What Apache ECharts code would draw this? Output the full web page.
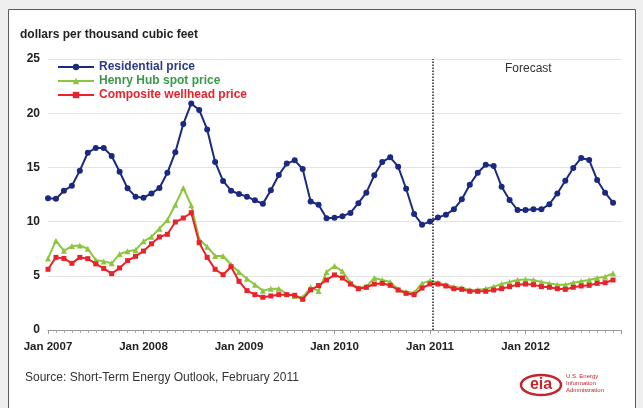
<!DOCTYPE html>
<html>
<head>
<meta charset="utf-8">
<script src="https://cdn.jsdelivr.net/npm/echarts@6/dist/echarts.min.js"></script>
<style>
  html, body { margin: 0; padding: 0; background: #efefef; }
  #chart { width: 643px; height: 408px; }
</style>
</head>
<body>
<div id="chart"></div>
<script>
// Monthly prices, Jan 2007 – Dec 2012 (dollars per thousand cubic feet)
const residentialPrice = [
  12.15, 12.1, 12.85, 13.3, 14.7, 16.35, 16.8, 16.8, 16.05, 14.6, 13.07, 12.3,
  12.2, 12.6, 13.1, 14.5, 16.4, 19.0, 20.9, 20.3, 18.5, 15.5, 13.75, 12.85,
  12.55, 12.3, 11.96, 11.65, 12.9, 14.3, 15.35, 15.65, 14.85, 11.85, 11.55, 10.3,
  10.35, 10.5, 10.8, 11.7, 12.67, 14.27, 15.5, 15.93, 15.07, 13.03, 10.7, 9.72,
  10.0, 10.37, 10.64, 11.13, 12.06, 13.4, 14.5, 15.25, 15.13, 13.22, 12.0, 11.07,
  11.07, 11.13, 11.13, 11.6, 12.6, 13.77, 14.95, 15.87, 15.68, 13.84, 12.67, 11.75
];
const henryHubSpot = [
  6.6, 8.24, 7.3, 7.75, 7.8, 7.5, 6.45, 6.33, 6.15, 7.0, 7.26, 7.38,
  8.18, 8.6, 9.35, 10.15, 11.56, 13.1, 11.5, 8.37, 7.68, 6.83, 6.83, 6.02,
  5.35, 4.73, 4.18, 3.63, 3.81, 3.81, 3.32, 3.14, 3.0, 3.94, 3.6, 5.35,
  5.9, 5.41, 4.36, 3.87, 4.0, 4.8, 4.61, 4.43, 3.75, 3.5, 3.44, 4.3,
  4.55, 4.36, 4.18, 4.0, 3.87, 3.69, 3.69, 3.81, 4.0, 4.24, 4.43, 4.61,
  4.67, 4.61, 4.43, 4.3, 4.18, 4.18, 4.36, 4.49, 4.61, 4.8, 4.92, 5.23
];
const compositeWellhead = [
  5.6, 6.7, 6.6, 6.15, 6.7, 6.58, 6.1, 5.68, 5.2, 5.72, 6.4, 6.8,
  7.28, 7.95, 8.58, 8.83, 9.96, 10.33, 10.82, 8.05, 6.7, 5.6, 5.1, 5.84,
  4.49, 3.63, 3.26, 3.02, 3.14, 3.26, 3.26, 3.2, 2.83, 3.7, 4.1, 4.61,
  5.08, 4.8, 4.24, 3.81, 3.94, 4.24, 4.3, 4.12, 3.69, 3.38, 3.26, 3.87,
  4.24, 4.24, 4.06, 3.81, 3.75, 3.57, 3.57, 3.57, 3.69, 3.81, 4.0, 4.18,
  4.24, 4.18, 4.0, 3.94, 3.81, 3.75, 3.94, 4.06, 4.12, 4.3, 4.36, 4.61
];
const seriesNames = ['Residential price', 'Henry Hub spot price', 'Composite wellhead price'];
const yearLabels = ['Jan 2007', 'Jan 2008', 'Jan 2009', 'Jan 2010', 'Jan 2011', 'Jan 2012'];
const forecastStart = 48.4;   // month index where the forecast begins

const toPoints = arr => arr.map((v, i) => [i, v]);

const FONT = 'Liberation Sans, Arial, sans-serif';
const navy = '#1b2a80';
const green = '#8cc63f';
const red = '#e8232b';

const chart = echarts.init(document.getElementById('chart'), null, { renderer: 'canvas' });

chart.setOption({
  backgroundColor: '#efefef',
  animation: false,
  textStyle: { fontFamily: FONT },
  graphic: [
    {
      type: 'rect', z: -10,
      shape: { x: 8.5, y: 9.5, width: 627, height: 410 },
      style: { fill: '#ffffff', stroke: '#5a5a5a', lineWidth: 1 }
    },
    {
      type: 'text', left: 20, top: 29,
      style: { text: 'dollars per thousand cubic feet', font: 'bold 12px ' + FONT, fill: '#222' }
    },
    {
      type: 'text', left: 505, top: 63,
      style: { text: 'Forecast', font: '12px ' + FONT, fill: '#333' }
    },
    {
      type: 'text', left: 25, top: 372,
      style: { text: 'Source: Short-Term Energy Outlook, February 2011', font: '12px ' + FONT, fill: '#333' }
    },
    // eia mark
    {
      type: 'ellipse',
      shape: { cx: 541, cy: 385, rx: 20, ry: 10 },
      style: { fill: 'none', stroke: '#c2262e', lineWidth: 2.5 }
    },
    {
      type: 'text', x: 541, y: 385,
      style: { text: 'eia', font: 'bold 16px ' + FONT, fill: '#c2262e', align: 'center', verticalAlign: 'middle' }
    },
    {
      type: 'text', left: 566, top: 373,
      style: { text: 'U.S. Energy\nInformation\nAdministration', font: '6px ' + FONT, fill: '#c2262e', lineHeight: 7 }
    }
  ],
  legend: {
    orient: 'vertical',
    left: 57, top: 61, padding: 0,
    itemWidth: 36, itemHeight: 8, itemGap: 2,
    textStyle: { fontFamily: FONT, fontSize: 12, fontWeight: 'bold' },
    data: [
      { name: seriesNames[0], textStyle: { color: '#2b3a8a' } },
      { name: seriesNames[1], textStyle: { color: '#3a9a4a' } },
      { name: seriesNames[2], textStyle: { color: '#e8232b' } }
    ]
  },
  grid: { left: 48, right: 22, top: 59, bottom: 78 },
  xAxis: {
    type: 'value',
    min: 0, max: 72, interval: 12,
    axisLine: { show: true, lineStyle: { color: '#999' } },
    axisTick: { show: true, length: 4, lineStyle: { color: '#999' } },
    minorTick: { show: true, splitNumber: 12, length: 3, lineStyle: { color: '#aaa' } },
    splitLine: { show: false },
    axisLabel: {
      margin: 11,
      color: '#222', fontWeight: 'bold', fontSize: 11.5, fontFamily: FONT,
      formatter: v => yearLabels[v / 12] || ''
    }
  },
  yAxis: {
    type: 'value',
    min: 0, max: 25, interval: 5,
    axisLine: { show: false },
    axisTick: { show: false },
    splitLine: { lineStyle: { color: '#e3e3e3', width: 1 } },
    axisLabel: { margin: 8, color: '#222', fontWeight: 'bold', fontSize: 12, fontFamily: FONT }
  },
  series: [
    {
      name: seriesNames[0], type: 'line',
      data: toPoints(residentialPrice),
      symbol: 'circle', symbolSize: 6,
      lineStyle: { color: navy, width: 2 },
      itemStyle: { color: navy },
      z: 3,
      markLine: {
        silent: true, symbol: 'none',
        label: { show: false },
        lineStyle: { color: '#222', type: 'dotted', width: 1.5 },
        data: [{ xAxis: forecastStart }]
      }
    },
    {
      name: seriesNames[1], type: 'line',
      data: toPoints(henryHubSpot),
      symbol: 'triangle', symbolSize: 6,
      lineStyle: { color: green, width: 2 },
      itemStyle: { color: green },
      z: 2
    },
    {
      name: seriesNames[2], type: 'line',
      data: toPoints(compositeWellhead),
      symbol: 'rect', symbolSize: 5,
      lineStyle: { color: red, width: 2 },
      itemStyle: { color: red },
      z: 3
    }
  ]
});
</script>
</body>
</html>
